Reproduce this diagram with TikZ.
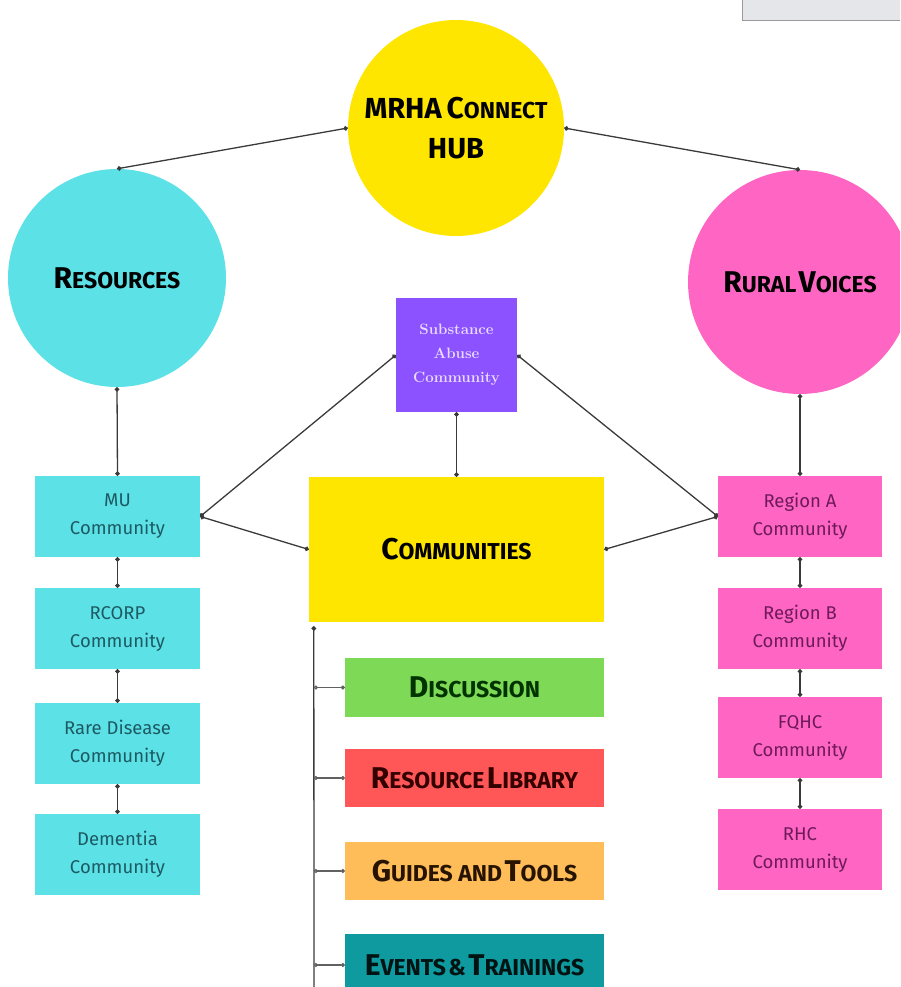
\documentclass[tikz,border=0pt]{standalone}
\usepackage{fontspec}
\newfontfamily\fira{Fira Sans}
\newfontfamily\firab{Fira Sans}[UprightFont=* Bold]
\usetikzlibrary{arrows.meta,calc}
\definecolor{hubY}{HTML}{FFE600}
\definecolor{cyanB}{HTML}{5CE1E6}
\definecolor{pinkB}{HTML}{FF66C4}
\definecolor{purpB}{HTML}{8C52FF}
\definecolor{greenB}{HTML}{7ED957}
\definecolor{redB}{HTML}{FF5757}
\definecolor{orangeB}{HTML}{FFBD59}
\definecolor{tealB}{HTML}{0F9AA0}
\definecolor{lineC}{HTML}{3A3A3A}
\definecolor{cyanT}{HTML}{1D5A63}
\definecolor{pinkT}{HTML}{6E1A5A}
\definecolor{subT}{HTML}{EADCFF}
\definecolor{grayB}{HTML}{E4E6E9}
\newcommand\hd[2]{{\fontsize{30}{32}\selectfont #1}{\fontsize{23}{26}\selectfont #2}}
\tikzset{
  bigcirc/.style={circle, fill=#1, draw=none, inner sep=0pt, text=black, align=center, font=\firab},
  smbox/.style={rectangle, fill=#1, draw=none, minimum width=165, minimum height=81, inner sep=0pt, align=center, font=\fira\fontsize{18.5}{28}\selectfont},
  barbox/.style={rectangle, fill=#1, draw=none, minimum width=259, minimum height=59, inner sep=0pt, align=center, font=\firab, text=black!85},
  conn/.style={draw=lineC, line width=1.3, {Circle[length=4.5pt]}-{Circle[length=4.5pt]}},
  branch/.style={draw=lineC!80, line width=1.2, {Circle[length=4pt,open]}-{Circle[length=4pt]}}
}
\begin{document}
\begin{tikzpicture}[x=1pt,y=-1pt]
\useasboundingbox (0,0) rectangle (900,987);
\clip (0,0) rectangle (900,987);
\fill[grayB, draw=gray!80, line width=0.8] (742,-2) rectangle (902,20);

\node[bigcirc=hubY, minimum size=216] (hub) at (456,128) {{\fontsize{29}{32}\selectfont MRHA}\hspace{5pt}\hd{C}{ONNECT}\\[18pt]{\fontsize{29}{32}\selectfont HUB}};
\node[bigcirc=cyanB, minimum size=218] (res) at (117,278) {\hd{R}{ESOURCES}};
\node[bigcirc=pinkB, minimum size=224] (rural) at (800,282) {\hd{R}{URAL} \hd{V}{OICES}};

\node[rectangle, fill=purpB, minimum width=121, minimum height=114, inner sep=0pt, align=center, text=subT, font=\bfseries\fontsize{15}{24}\selectfont] (sub) at (456.5,355) {Substance\\Abuse\\Community};
\node[rectangle, fill=hubY, minimum width=295, minimum height=145, inner sep=0pt, font=\firab] (comm) at (456.5,549.5) {\hd{C}{OMMUNITIES}};

\node[smbox=cyanB, text=cyanT] (mu) at (117.5,516.5) {MU\\Community};
\node[smbox=cyanB, text=cyanT] (rcorp) at (117.5,628.5) {RCORP\\Community};
\node[smbox=cyanB, text=cyanT] (rare) at (117.5,743.5) {Rare Disease\\Community};
\node[smbox=cyanB, text=cyanT] (dem) at (117.5,854.5) {Dementia\\Community};

\node[smbox=pinkB, text=pinkT, minimum width=164] (ra) at (800,516.5) {Region A\\Community};
\node[smbox=pinkB, text=pinkT, minimum width=164] (rb) at (800,628.5) {Region B\\Community};
\node[smbox=pinkB, text=pinkT, minimum width=164] (fq) at (800,737.5) {FQHC\\Community};
\node[smbox=pinkB, text=pinkT, minimum width=164] (rhc) at (800,849.5) {RHC\\Community};

\node[barbox=greenB, text=black!80!green] (disc) at (474.5,687.5) {\hd{D}{ISCUSSION}};
\node[barbox=redB, text=black!80!red, minimum height=58] (lib) at (474.5,778) {\hd{R}{ESOURCE} \hd{L}{IBRARY}};
\node[barbox=orangeB, text=black!85!orange, minimum height=58] (guide) at (474.5,871) {\hd{G}{UIDES AND} \hd{T}{OOLS}};
\node[barbox=tealB, text=black!85!teal, minimum height=62] (events) at (474.5,965) {\hd{E}{VENTS} {\fontsize{23}{26}\selectfont\&} \hd{T}{RAININGS}};

\draw[conn] (hub.west) -- (res.north);
\draw[conn] (hub.east) -- (rural.north);
\draw[conn] (res.south) -- (mu.north);
\draw[conn] (rural.south) -- (ra.north);
\draw[conn] (sub.west) -- (mu.east);
\draw[conn] (sub.east) -- (ra.west);
\draw[conn] (sub.south) -- (comm.north);
\draw[conn] (mu.east) -- (comm.west);
\draw[conn] (ra.west) -- (comm.east);
\draw[conn] (mu.south) -- (rcorp.north);
\draw[conn] (rcorp.south) -- (rare.north);
\draw[conn] (rare.south) -- (dem.north);
\draw[conn] (ra.south) -- (rb.north);
\draw[conn] (rb.south) -- (fq.north);
\draw[conn] (fq.south) -- (rhc.north);

\coordinate (sp) at ($(comm.south west)+(5,4)$);
\coordinate (spb) at (314,992);
\draw[draw=lineC, line width=1.3, {Circle[length=4.5pt]}-] (sp) -- (spb);
\draw[branch] (disc.west -| sp) -- (disc.west);
\draw[branch] (lib.west -| sp) -- (lib.west);
\draw[branch] (guide.west -| sp) -- (guide.west);
\draw[branch] (events.west -| sp) -- (events.west);
\end{tikzpicture}
\end{document}
